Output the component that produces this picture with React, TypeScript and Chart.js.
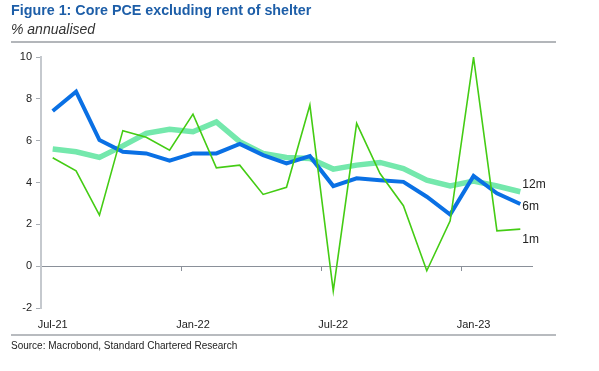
import React, { useEffect, useRef } from "react";
import { Chart, registerables } from "chart.js";

Chart.register(...registerables);

const months = [
  "Jul-21", "Aug-21", "Sep-21", "Oct-21", "Nov-21", "Dec-21",
  "Jan-22", "Feb-22", "Mar-22", "Apr-22", "May-22", "Jun-22",
  "Jul-22", "Aug-22", "Sep-22", "Oct-22", "Nov-22", "Dec-22",
  "Jan-23", "Feb-23", "Mar-23",
];

const oneMonth = [5.18, 4.56, 2.44, 6.48, 6.16, 5.55, 7.27, 4.7, 4.83, 3.43, 3.77, 7.7, -1.18, 6.83, 4.43, 2.89, -0.22, 2.17, 9.98, 1.69, 1.77];
const sixMonth = [7.42, 8.34, 6.03, 5.47, 5.39, 5.04, 5.39, 5.39, 5.84, 5.31, 4.91, 5.26, 3.83, 4.2, 4.11, 4.03, 3.32, 2.47, 4.31, 3.48, 2.97];
const twelveMonth = [5.6, 5.47, 5.2, 5.75, 6.35, 6.54, 6.43, 6.9, 5.95, 5.39, 5.2, 5.15, 4.64, 4.83, 4.96, 4.67, 4.11, 3.84, 4.07, 3.83, 3.56];

const seriesNames = ["1m", "6m", "12m"];
const yTicks = [-2, 0, 2, 4, 6, 8, 10];

const FONT = "'Liberation Sans', Arial, sans-serif";

const endLabelOffsets: Record<string, number> = { "1m": 11, "6m": 3, "12m": -7 };

const endLabels = {
  id: "endLabels",
  afterDatasetsDraw(chart: any) {
    const ctx = chart.ctx;
    ctx.save();
    ctx.font = `12px ${FONT}`;
    ctx.fillStyle = "#222";
    ctx.textAlign = "left";
    ctx.textBaseline = "middle";
    chart.data.datasets.forEach((ds: any, i: number) => {
      const meta = chart.getDatasetMeta(i);
      const pt = meta.data[meta.data.length - 1];
      if (!pt) return;
      ctx.fillText(ds.label, pt.x + 2, pt.y + (endLabelOffsets[ds.label] || 0));
    });
    ctx.restore();
  },
};

function ChartBox() {
  const ref = useRef<HTMLCanvasElement | null>(null);
  useEffect(() => {
    if (!ref.current) return;
    const chart = new Chart(ref.current, {
      type: "line",
      data: {
        labels: months,
        datasets: [
          {
            label: seriesNames[0],
            data: oneMonth,
            borderColor: "#44cc14",
            borderWidth: 1.6,
            pointRadius: 0,
            tension: 0,
            order: 0,
          },
          {
            label: seriesNames[1],
            data: sixMonth,
            borderColor: "#0a70e4",
            borderWidth: 4,
            pointRadius: 0,
            tension: 0,
            order: 1,
          },
          {
            label: seriesNames[2],
            data: twelveMonth,
            borderColor: "#74e8ac",
            borderWidth: 5.5,
            pointRadius: 0,
            tension: 0,
            order: 2,
          },
        ],
      },
      options: {
        animation: false,
        responsive: false,
        maintainAspectRatio: false,
        layout: { padding: { top: 57, right: 67, bottom: 33, left: 0 } },
        plugins: { legend: { display: false }, tooltip: { enabled: false } },
        scales: {
          x: {
            type: "category",
            offset: true,
            grid: { display: false, drawTicks: false, offset: true },
            border: { display: false },
            ticks: {
              autoSkip: false,
              maxRotation: 0,
              minRotation: 0,
              padding: 10,
              color: "#222",
              font: { family: FONT, size: 11 },
              callback: (_v: any, i: number) => (i % 6 === 0 ? months[i] : ""),
            },
            afterFit: (s: any) => {
              s.height = 30;
            },
          },
          x0: {
            type: "category",
            axis: "x",
            position: { y: 0 },
            offset: true,
            border: { display: true, color: "#8a9099", width: 1 },
            grid: {
              offset: true,
              drawOnChartArea: false,
              drawTicks: true,
              tickLength: 4,
              color: (c: any) =>
                c.index !== undefined && c.index > 0 && c.index % 6 === 0 ? "#8a9099" : "transparent",
            },
            ticks: { display: false },
          },
          y: {
            min: -2,
            max: 10,
            afterBuildTicks: (s: any) => {
              s.ticks = yTicks.map((v) => ({ value: v }));
            },
            border: { display: true, color: "#c5c9ce", width: 2 },
            grid: {
              drawOnChartArea: false,
              drawTicks: true,
              tickLength: 5,
              color: "#a8adb3",
            },
            ticks: {
              padding: 4,
              color: "#222",
              font: { family: FONT, size: 11 },
            },
            afterFit: (s: any) => {
              s.width = 41;
            },
          },
        },
      },
      plugins: [endLabels],
    });
    return () => chart.destroy();
  }, []);
  return (
    <canvas
      ref={ref}
      width={599}
      height={371}
      style={{ position: "absolute", left: 0, top: 0, width: 599, height: 371 }}
    />
  );
}

export default function App() {
  return (
    <div style={{ position: "absolute", left: 0, top: 0, width: 599, height: 371, background: "#fff", fontFamily: FONT }}>
      <ChartBox />
      <div style={{ position: "absolute", left: 11, top: 2, fontSize: 14.3, fontWeight: "bold", color: "#1d5ea8", whiteSpace: "nowrap" }}>
        Figure 1: Core PCE excluding rent of shelter
      </div>
      <div style={{ position: "absolute", left: 11, top: 21, fontSize: 14, fontStyle: "italic", color: "#333", whiteSpace: "nowrap" }}>
        % annualised
      </div>
      <div style={{ position: "absolute", left: 11, top: 41, width: 545, height: 2, background: "#b3b6ba" }} />
      <div style={{ position: "absolute", left: 11, top: 334, width: 545, height: 2, background: "#b8bbbf" }} />
      <div style={{ position: "absolute", left: 11, top: 340, fontSize: 10, color: "#222", whiteSpace: "nowrap" }}>
        Source: Macrobond, Standard Chartered Research
      </div>
    </div>
  );
}
